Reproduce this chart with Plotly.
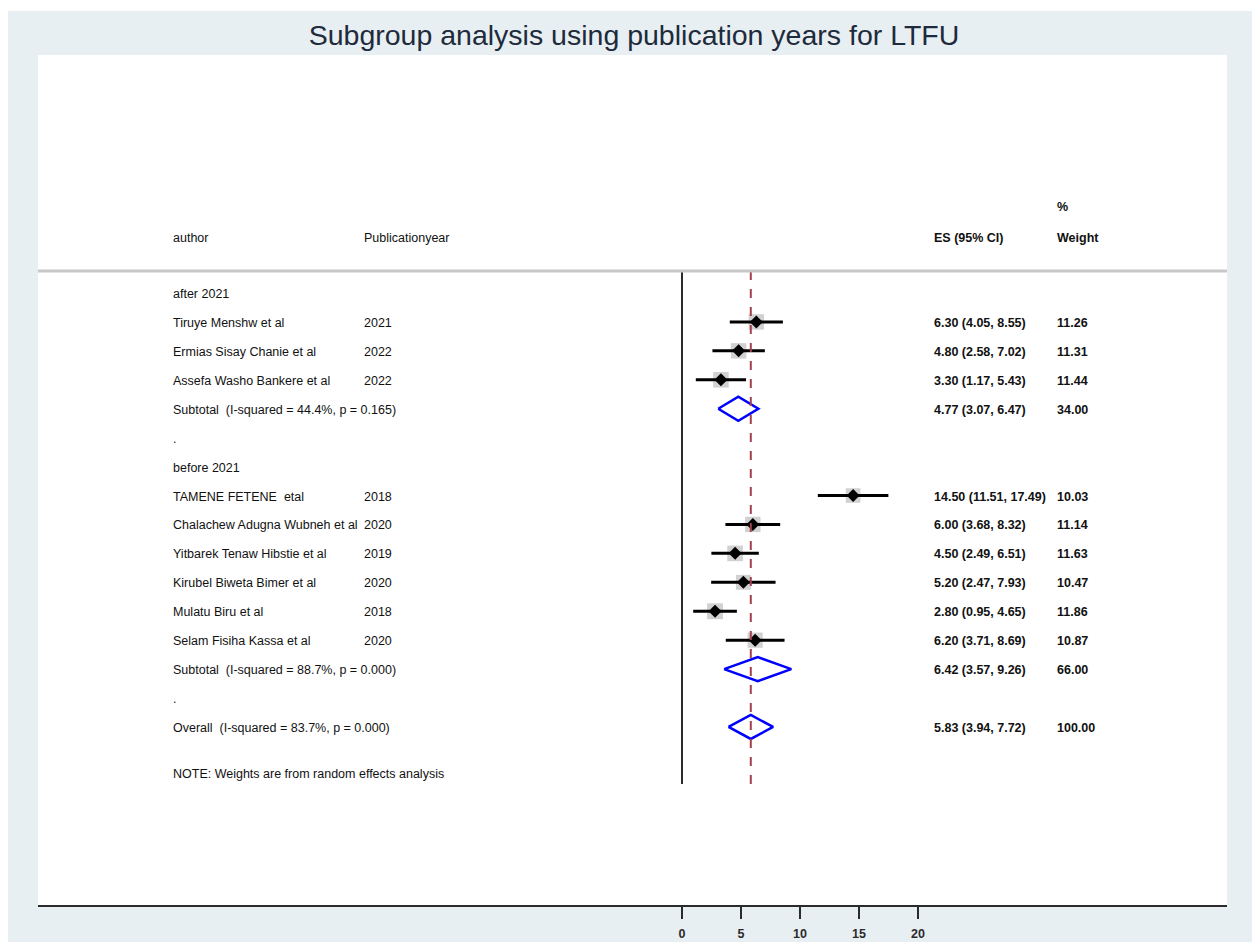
import plotly.graph_objects as go

# ---------------- data ----------------
row_labels = [
    "after 2021",
    "Tiruye Menshw et al",
    "Ermias Sisay Chanie et al",
    "Assefa Washo Bankere et al",
    "Subtotal  (I-squared = 44.4%, p = 0.165)",
    ".",
    "before 2021",
    "TAMENE FETENE  etal",
    "Chalachew Adugna Wubneh et al",
    "Yitbarek Tenaw Hibstie et al",
    "Kirubel Biweta Bimer et al",
    "Mulatu Biru et al",
    "Selam Fisiha Kassa et al",
    "Subtotal  (I-squared = 88.7%, p = 0.000)",
    ".",
    "Overall  (I-squared = 83.7%, p = 0.000)",
]
row_kind = ["head", "study", "study", "study", "sub", "blank",
            "head", "study", "study", "study", "study", "study", "study", "sub", "blank",
            "sub"]
pub_year = ["", "2021", "2022", "2022", "", "",
            "", "2018", "2020", "2019", "2020", "2018", "2020", "", "", ""]
es = [None, 6.30, 4.80, 3.30, 4.77, None,
      None, 14.50, 6.00, 4.50, 5.20, 2.80, 6.20, 6.42, None, 5.83]
ci_low = [None, 4.05, 2.58, 1.17, 3.07, None,
          None, 11.51, 3.68, 2.49, 2.47, 0.95, 3.71, 3.57, None, 3.94]
ci_high = [None, 8.55, 7.02, 5.43, 6.47, None,
           None, 17.49, 8.32, 6.51, 7.93, 4.65, 8.69, 9.26, None, 7.72]
weight = [None, 11.26, 11.31, 11.44, 34.00, None,
          None, 10.03, 11.14, 11.63, 10.47, 11.86, 10.87, 66.00, None, 100.00]
overall_es = 5.83
note_text = "NOTE: Weights are from random effects analysis"
tick_vals = [0, 5, 10, 15, 20]
title_text = "Subgroup analysis using publication years for LTFU"

# ---------------- geometry helpers ----------------
W, H = 1252, 942
PL, PR, PT, PB = 38, 1227, 55, 905   # plot area edges in pixels
ML, MR, MT, MB = PL, W - PR, PT, H - PB
PW = PR - PL
PH = PB - PT

def px_to_paper_x(p):
    return (p - PL) / PW

def px_to_paper_y(q):
    return (PB - q) / PH

rows = list(range(len(row_labels)))
note_row = len(row_labels) + 0.6
head_row1 = -3.0
head_row2 = -1.95
sep_row = -0.76
vline_end = 16.97
dh = 0.415

fig = go.Figure()

# weight boxes
box_x, box_y, box_s = [], [], []
for r, k in zip(rows, row_kind):
    if k == "study":
        box_x.append(es[r]); box_y.append(r); box_s.append(4.6 * weight[r] ** 0.5)
fig.add_trace(go.Scatter(x=box_x, y=box_y, mode="markers",
                         marker=dict(symbol="square", size=box_s, color="#bdbdbd",
                                     line=dict(width=0)),
                         hoverinfo="skip", showlegend=False))

# CI lines
lx, ly = [], []
for r, k in zip(rows, row_kind):
    if k == "study":
        lx += [ci_low[r], ci_high[r], None]
        ly += [r, r, None]
fig.add_trace(go.Scatter(x=lx, y=ly, mode="lines",
                         line=dict(color="black", width=3),
                         hoverinfo="skip", showlegend=False))

# point estimates
fig.add_trace(go.Scatter(x=box_x, y=box_y, mode="markers",
                         marker=dict(symbol="diamond", size=10, color="black"),
                         hoverinfo="skip", showlegend=False))

# pooled diamonds
dx, dy = [], []
for r, k in zip(rows, row_kind):
    if k == "sub":
        dx += [ci_low[r], es[r], ci_high[r], es[r], ci_low[r], None]
        dy += [r, r - dh, r, r + dh, r, None]
fig.add_trace(go.Scatter(x=dx, y=dy, mode="lines",
                         line=dict(color="#0000ff", width=2.5),
                         hoverinfo="skip", showlegend=False))

# vertical reference lines
fig.add_shape(type="line", x0=0, x1=0, y0=sep_row, y1=vline_end,
              xref="x", yref="y", line=dict(color="#2b2b2b", width=2))
fig.add_shape(type="line", x0=overall_es, x1=overall_es, y0=sep_row, y1=vline_end,
              xref="x", yref="y", line=dict(color="#a5414f", width=2, dash="dash"))

# header separator
fig.add_shape(type="line", x0=0, x1=1, y0=sep_row, y1=sep_row,
              xref="paper", yref="y", line=dict(color="#c8c8c8", width=3))

# white strips outside the light panel (top and left)
fig.add_shape(type="rect", x0=px_to_paper_x(-5), x1=px_to_paper_x(W + 5),
              y0=px_to_paper_y(11), y1=px_to_paper_y(-5),
              xref="paper", yref="paper", fillcolor="white", line=dict(width=0),
              layer="below")
fig.add_shape(type="rect", x0=px_to_paper_x(-5), x1=px_to_paper_x(8),
              y0=px_to_paper_y(H + 5), y1=px_to_paper_y(-5),
              xref="paper", yref="paper", fillcolor="white", line=dict(width=0),
              layer="below")

# text columns
col_author = px_to_paper_x(173)
col_year = px_to_paper_x(364)
col_es = px_to_paper_x(934)
col_w = px_to_paper_x(1057)
FAM = "Liberation Sans, Arial, sans-serif"
txt_font = dict(family=FAM, size=12.5, color="#111111")
num_font = dict(family=FAM, size=12.5, color="#111111", weight="bold")

def add_text(x, y, s, font):
    fig.add_annotation(x=x, y=y, xref="paper", yref="y", text=s, showarrow=False,
                       xanchor="left", yanchor="middle", font=font,
                       xshift=-2, yshift=-1)

add_text(col_author, head_row2, "author", txt_font)
add_text(col_year, head_row2, "Publicationyear", txt_font)
add_text(col_es, head_row2, "ES (95% CI)", num_font)
add_text(col_w, head_row1, "%", num_font)
add_text(col_w, head_row2, "Weight", num_font)

for r in rows:
    add_text(col_author, r, row_labels[r], txt_font)
    if pub_year[r]:
        add_text(col_year, r, pub_year[r], txt_font)
    if es[r] is not None:
        add_text(col_es, r, f"{es[r]:.2f} ({ci_low[r]:.2f}, {ci_high[r]:.2f})", num_font)
        add_text(col_w, r, f"{weight[r]:.2f}", num_font)
add_text(col_author, note_row, note_text, txt_font)

# ---------------- axes/layout ----------------
px_per_unit = 11.8
x_zero_px = 682
x_range = [(PL - x_zero_px) / px_per_unit, (PR - x_zero_px) / px_per_unit]
row_px = 28.93
row0_px = 293
y_bottom = (PB - row0_px) / row_px
y_top = (PT - row0_px) / row_px

fig.update_layout(
    width=W, height=H,
    margin=dict(l=ML, r=MR, t=MT, b=MB, pad=0, autoexpand=False),
    paper_bgcolor="#e8eff2",
    plot_bgcolor="white",
    title=dict(text=title_text, x=634 / W, xanchor="center",
               y=1 - 35 / H, yanchor="middle", automargin=False,
               font=dict(family=FAM, size=28.5, color="#1e2b3c")),
    xaxis=dict(range=x_range, showgrid=False, zeroline=False, showline=True,
               linecolor="#2b2b2b", linewidth=2, ticks="outside", ticklen=12,
               tickwidth=2, tickcolor="#2b2b2b", tickvals=tick_vals,
               ticklabelstandoff=4, automargin=False,
               tickfont=dict(family=FAM, size=12.5, color="#2b2b2b", weight="bold"),
               fixedrange=True),
    yaxis=dict(range=[y_bottom, y_top], visible=False, fixedrange=True,
               automargin=False),
    showlegend=False,
)

# page body margin removed so the figure fills the window exactly
fig.write_html("out.html", config={"displayModeBar": False, "staticPlot": True},
               post_script="document.body.style.margin='0';")
